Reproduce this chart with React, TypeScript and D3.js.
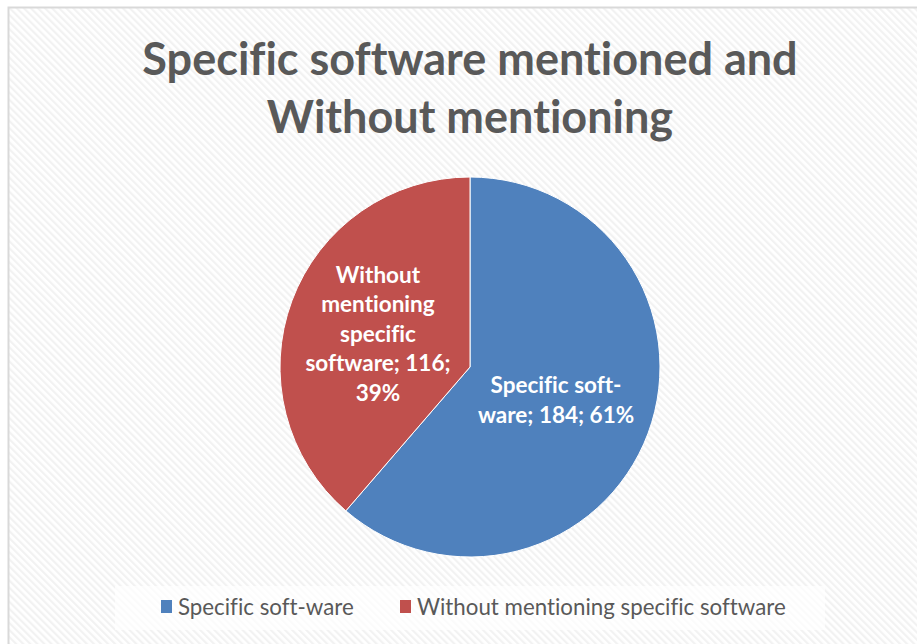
import React from 'react';
import * as d3 from 'd3';

const categories = ['Specific soft-ware', 'Without mentioning specific software'];
const values = [184, 116];
const percents = ['61%', '39%'];
const colors = ['#4f81bd', '#c0504d'];
// label lines as Excel wrapped them
const labelLines = [
  ['Specific soft-', 'ware; 184; 61%'],
  ['Without', 'mentioning', 'specific', 'software; 116;', '39%'],
];
const titleLines = ['Specific software mentioned and', 'Without mentioning'];

const W = 917, H = 644;
const cx = 470, cy = 367, r = 190;
const font = 'Lato, "Open Sans", sans-serif';

export default function App() {
  const pie = d3.pie<number>().sort(null).value(d => d);
  const arcs = pie(values);
  const arc = d3.arc<d3.PieArcDatum<number>>().innerRadius(0).outerRadius(r);
  const labelArc = d3.arc<d3.PieArcDatum<number>>().innerRadius(r * 0.5).outerRadius(r * 0.5);

  return (
    <svg width={W} height={H} style={{ position: 'absolute', left: 0, top: 0, fontVariantLigatures: 'none' }} fontFamily={font}>
      <defs>
        <pattern id="stripes" width="5" height="5" patternUnits="userSpaceOnUse" patternTransform="rotate(-45)">
          <rect width="5" height="5" fill="#ffffff" />
          <rect width="2.2" height="5" fill="#f2f2f2" />
        </pattern>
      </defs>
      <rect x={8.5} y={7.5} width={W} height={H} fill="url(#stripes)" stroke="#d9d9d9" strokeWidth={2} />
      {titleLines.map((t, i) => (
        <text key={i} x={cx} y={75 + i * 58} textAnchor="middle" fontSize={45} fontWeight="bold" fill="#595959">{t}</text>
      ))}
      <g transform={`translate(${cx},${cy})`}>
        {arcs.map((a, i) => (
          <path key={i} d={arc(a) || ''} fill={colors[i]} stroke="#ffffff" strokeWidth={1} />
        ))}
        {arcs.map((a, i) => {
          const [lx, ly] = labelArc.centroid(a);
          const lines = labelLines[i];
          const lh = 29.5;
          const y0 = ly - ((lines.length - 1) * lh) / 2;
          return (
            <text key={i} textAnchor="middle" fontSize={22.5} fontWeight="bold" fill="#ffffff">
              {lines.map((l, j) => (
                <tspan key={j} x={lx - 3} y={y0 + j * lh} dy="0.35em">{l}</tspan>
              ))}
            </text>
          );
        })}
      </g>
      <rect x={115} y={586} width={710} height={44} fill="#ffffff" opacity={0.7} />
      {categories.map((c, i) => {
        const xs = [161, 400];
        return (
          <g key={i} transform={`translate(${xs[i]},${607})`}>
            <rect x={0} y={-7} width={11} height={13} fill={colors[i]} />
            <text x={17} y={0} dy="0.35em" fontSize={22.3} fill="#595959">{c}</text>
          </g>
        );
      })}
      <text display="none">{percents.join(' ')}</text>
    </svg>
  );
}
